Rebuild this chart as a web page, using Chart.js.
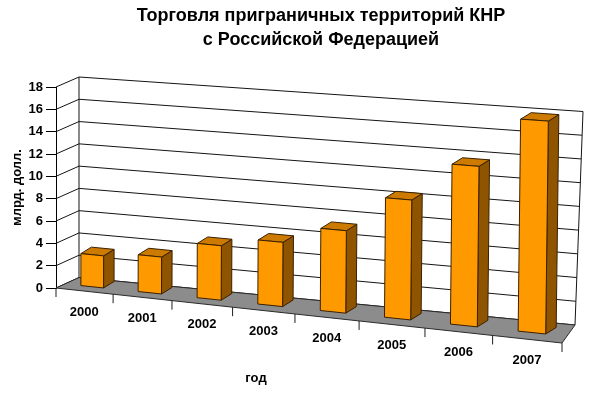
<!DOCTYPE html>
<html>
<head>
<meta charset="utf-8">
<script src="https://cdn.jsdelivr.net/npm/chart.js@4.4.1/dist/chart.umd.min.js"></script>
<style>
  html, body { margin: 0; padding: 0; background: #fff; }
</style>
</head>
<body>
<canvas id="myChart" width="600" height="393"></canvas>
<script>
// data (млрд. долл.)
const years = ["2000", "2001", "2002", "2003", "2004", "2005", "2006", "2007"];
const trade = [2.9, 3.3, 4.8, 5.6, 7.1, 10.2, 13.5, 17.7];
const titleLines = ["Торговля приграничных территорий КНР", "с Российской Федерацией"];
const yAxisTitle = "млрд. долл.";
const xAxisTitle = "год";
const yMax = 18;
const yStep = 2;

const FONT = "'Liberation Sans', Arial, sans-serif";

// fake 3D box: front and back floor edges, wall heights at left/right
const FRONT = { x0: 56, y0: 288, x1: 562, y1: 343, h0: 201, h1: 220 };
const BACK = { x0: 79, y0: 277.5, x1: 575, y1: 325, h0: 200.5, h1: 213.5 };
const WARP = 0.889; // categories get wider to the right
const BAR_DEPTH = 0.35;
const SIDE = { dx: 10.5, dy: -6.5 };

const lerp = (a, b, t) => a + (b - a) * t;

// u: 0..1 along categories, v: 0..1 up the value axis, d: 0 front .. 1 back
function project(u, v, d) {
  const w = WARP * u + (1 - WARP) * u * u;
  const x = lerp(lerp(FRONT.x0, FRONT.x1, w), lerp(BACK.x0, BACK.x1, w), d);
  const y0 = lerp(lerp(FRONT.y0, FRONT.y1, w), lerp(BACK.y0, BACK.y1, w), d);
  const h = lerp(lerp(FRONT.h0, FRONT.h1, w), lerp(BACK.h0, BACK.h1, w), d);
  return [x + 8 * w * d * v, y0 - v * h];
}

function line(ctx, p, q) {
  ctx.beginPath();
  ctx.moveTo(p[0], p[1]);
  ctx.lineTo(q[0], q[1]);
  ctx.stroke();
}

function poly(ctx, pts, fill, stroke) {
  ctx.beginPath();
  pts.forEach((p, i) => (i ? ctx.lineTo(p[0], p[1]) : ctx.moveTo(p[0], p[1])));
  ctx.closePath();
  ctx.fillStyle = fill;
  ctx.fill();
  ctx.strokeStyle = stroke;
  ctx.stroke();
}

const box3d = {
  id: "box3d",
  beforeDatasetsDraw(chart) {
    const { ctx, chartArea: a, scales } = chart;
    const ys = scales.y;
    const toV = (py) => (a.bottom - py) / (a.bottom - a.top);
    ctx.save();
    ctx.lineWidth = 1;
    ctx.strokeStyle = "#141414";
    ys.ticks.forEach((t) => {
      const v = toV(ys.getPixelForValue(t.value));
      line(ctx, project(0, v, 0), project(0, v, 1));
      line(ctx, project(0, v, 1), project(1, v, 1));
    });
    line(ctx, project(0, 0, 1), project(0, 1, 1));
    line(ctx, project(1, 0, 1), project(1, 1, 1));
    // floor
    poly(ctx, [project(0, 0, 0), project(1, 0, 0), project(1, 0, 1), project(0, 0, 1)], "#8c8c8c", "#2a2a2a");
    ctx.restore();
  },
  afterDatasetsDraw(chart) {
    const { ctx, chartArea: a } = chart;
    const toU = (px) => (px - a.left) / (a.right - a.left);
    const toV = (py) => (a.bottom - py) / (a.bottom - a.top);
    const shift = (p) => [p[0] + SIDE.dx, p[1] + SIDE.dy];
    ctx.save();
    ctx.lineWidth = 1;
    ctx.lineJoin = "round";
    chart.getDatasetMeta(0).data.forEach((bar) => {
      const { x, y, base, width } = bar.getProps(["x", "y", "base", "width"], true);
      const uL = toU(x - width / 2);
      const uR = toU(x + width / 2);
      const v0 = toV(base);
      const v1 = toV(y);
      const bl = project(uL, v0, BAR_DEPTH);
      const br = project(uR, v0, BAR_DEPTH);
      const tl = project(uL, v1, BAR_DEPTH);
      const tr = project(uR, v1, BAR_DEPTH);
      poly(ctx, [br, shift(br), shift(tr), tr], "#8f5400", "#3a2000");
      poly(ctx, [tl, tr, shift(tr), shift(tl)], "#cc7a00", "#3a2000");
      poly(ctx, [bl, br, tr, tl], "#ff9900", "#3a2000");
    });
    ctx.restore();
  },
  afterDraw(chart) {
    const { ctx, chartArea: a, scales } = chart;
    const xs = scales.x;
    const toU = (px) => (px - a.left) / (a.right - a.left);
    const half = (a.right - a.left) / years.length / 2;
    ctx.save();
    ctx.strokeStyle = "#1e1e1e";
    ctx.lineWidth = 1;
    // category ticks on the front floor edge
    for (let i = 0; i <= years.length; i++) {
      const px = i < years.length ? xs.getPixelForValue(i) - half : xs.getPixelForValue(i - 1) + half;
      const p = project(toU(px), 0, 0);
      line(ctx, p, [p[0], p[1] + 9]);
    }
    ctx.fillStyle = "#000";
    ctx.textAlign = "center";
    ctx.textBaseline = "middle";
    ctx.font = "bold 13px " + FONT;
    years.forEach((yr, i) => {
      const p = project(toU(xs.getPixelForValue(i)), 0, 0);
      ctx.fillText(yr, p[0], p[1] + 21);
    });
    ctx.fillText(xAxisTitle, 256, 378);
    ctx.font = "bold 18px " + FONT;
    titleLines.forEach((t, i) => ctx.fillText(t, 321, 16 + i * 24.5));
    ctx.restore();
  },
};

new Chart(document.getElementById("myChart"), {
  type: "bar",
  data: {
    labels: years,
    datasets: [
      {
        data: trade,
        backgroundColor: "rgba(0,0,0,0)",
        borderWidth: 0,
        barPercentage: 0.4,
        categoryPercentage: 1,
      },
    ],
  },
  options: {
    responsive: false,
    animation: false,
    layout: { padding: { top: 87, right: 38, bottom: 105, left: 0 }, autoPadding: false },
    plugins: { legend: { display: false }, title: { display: false }, tooltip: { enabled: false } },
    scales: {
      x: { display: false },
      y: {
        min: 0,
        max: yMax,
        afterFit: (scale) => { scale.width = 56; },
        ticks: { stepSize: yStep, padding: 3, color: "#000", font: { family: FONT, size: 13, weight: "bold" } },
        grid: { drawOnChartArea: false, tickLength: 10, color: "#000" },
        border: { display: true, color: "#000" },
        title: {
          display: true,
          text: yAxisTitle,
          color: "#000",
          padding: { top: 10, bottom: 0 },
          font: { family: FONT, size: 13, weight: "bold" },
        },
      },
    },
  },
  plugins: [box3d],
});
</script>
</body>
</html>
